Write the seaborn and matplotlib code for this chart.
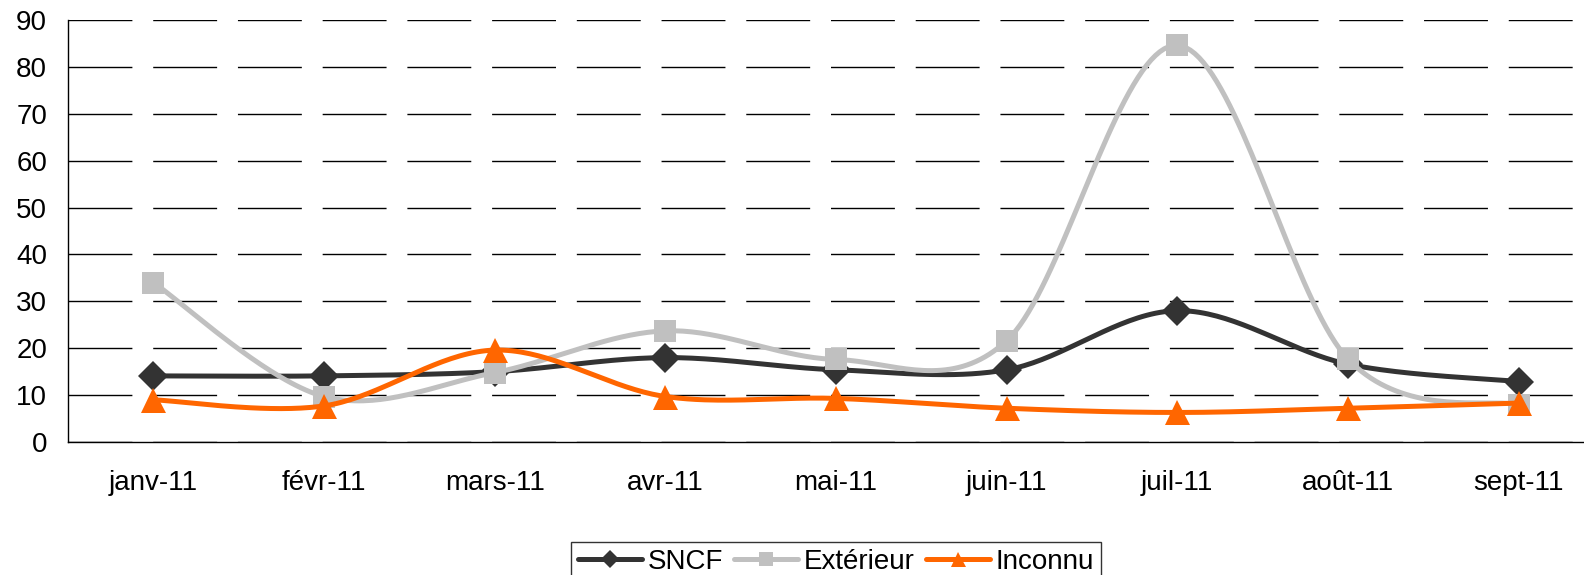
import numpy as np
import matplotlib
matplotlib.use("Agg")
import matplotlib.pyplot as plt
from matplotlib.lines import Line2D
from matplotlib.ticker import FixedLocator
import seaborn as sns

# Données
mois = ["janv-11", "févr-11", "mars-11", "avr-11", "mai-11",
        "juin-11", "juil-11", "août-11", "sept-11"]
sncf = [14.1, 14.1, 15.0, 18.0, 15.4, 15.4, 28.0, 16.6, 12.9]
exterieur = [34.0, 9.7, 14.8, 23.7, 17.6, 21.6, 84.6, 17.7, 7.9]
inconnu = [9.0, 7.7, 19.6, 9.7, 9.3, 7.2, 6.3, 7.2, 8.3]

series = [
    ("SNCF", sncf, "#333333", "D", 15),
    ("Extérieur", exterieur, "#C0C0C0", "s", 16),
    ("Inconnu", inconnu, "#FF6600", "^", 18),
]


def lissage(xs, ys, n=40):
    # courbe lissée façon Excel (Bézier / Catmull-Rom)
    pts = np.column_stack([xs, ys]).astype(float)
    out = []
    for i in range(len(pts) - 1):
        p0 = pts[max(i - 1, 0)]
        p1 = pts[i]
        p2 = pts[i + 1]
        p3 = pts[min(i + 2, len(pts) - 1)]
        c1 = p1 + (p2 - p0) / 6
        c2 = p2 - (p3 - p1) / 6
        t = np.linspace(0, 1, n)[:, None]
        seg = (1 - t) ** 3 * p1 + 3 * (1 - t) ** 2 * t * c1 + 3 * (1 - t) * t ** 2 * c2 + t ** 3 * p2
        out.append(seg)
    return np.vstack(out)


def main():
    sns.set_style("white")
    plt.rcParams["font.family"] = ["Liberation Sans", "DejaVu Sans"]
    plt.rcParams["text.color"] = "black"
    plt.rcParams["xtick.color"] = "black"
    plt.rcParams["ytick.color"] = "black"

    W, H = 1584, 575
    fig = plt.figure(figsize=(W / 100, H / 100), dpi=100)
    ax = fig.add_axes([68 / W, (H - 442) / H, 1536 / W, 422 / H])

    x = np.arange(len(mois))
    handles = []
    for nom, vals, col, mk, ms in series:
        c = lissage(x, vals)
        sns.lineplot(x=c[:, 0], y=c[:, 1], sort=False, estimator=None,
                     color=col, linewidth=3.6, ax=ax)
        ax.plot(x, vals, linestyle="none", marker=mk, markersize=ms,
                color=col, markeredgewidth=0)
        handles.append(Line2D([], [], color=col, linewidth=3.6, marker=mk,
                              markersize=ms * 0.6, markeredgewidth=0, label=nom))

    ax.set_xlim(-0.5, len(mois) - 0.5)
    ax.set_ylim(0, 90)
    ax.set_yticks(np.arange(0, 91, 10))
    ax.yaxis.grid(True, color="black", linewidth=1, linestyle=(0, (46, 15)))
    ax.set_axisbelow(True)

    ax.set_xticks(x)
    ax.set_xticklabels(mois)
    ax.xaxis.set_minor_locator(FixedLocator(np.arange(-0.5, len(mois), 1)))
    ax.tick_params(axis="x", which="major", length=0, pad=20, labelsize=20,
                   labelcolor="black")
    ax.tick_params(axis="x", which="minor", length=8, width=1, color="black", direction="out")
    ax.tick_params(axis="y", length=8, width=1, color="black", direction="out",
                   labelsize=20, pad=7, labelcolor="black")

    for s in ["top", "right"]:
        ax.spines[s].set_visible(False)
    for s in ["left", "bottom"]:
        ax.spines[s].set_color("black")
        ax.spines[s].set_linewidth(1)

    leg = fig.legend(handles=handles, loc="upper center", ncol=3,
                     bbox_to_anchor=(836 / W, 1 - 528 / H), fontsize=20,
                     frameon=True, fancybox=False, handlelength=2.3,
                     handletextpad=0.2, columnspacing=0.4, borderpad=0.25)
    leg.get_frame().set_edgecolor("black")
    leg.get_frame().set_linewidth(1)
    for t in leg.get_texts():
        t.set_color("black")

    fig.savefig("out.png", dpi=100)
    plt.close(fig)


if __name__ == "__main__":
    main()
